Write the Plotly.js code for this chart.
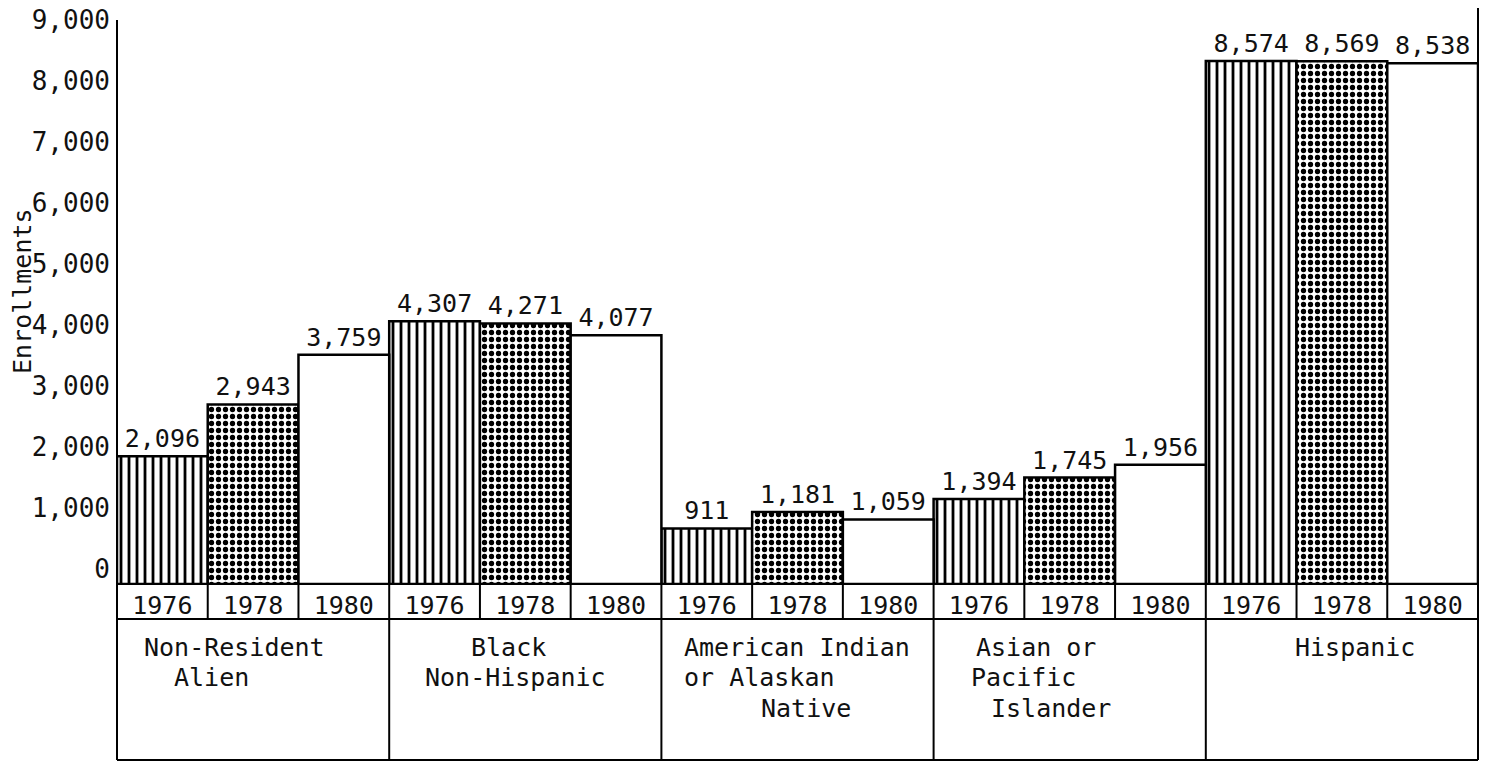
<!DOCTYPE html>
<html><head><meta charset="utf-8">
<script src="https://cdn.plot.ly/plotly-3.0.1.min.js"></script>
<style>html,body{margin:0;padding:0;background:#fff}#chart{width:1488px;height:763px}</style>
</head><body><div id="chart"></div>
<script>
// ---- data ----
const categories = ['Non-Resident Alien', 'Black Non-Hispanic', 'American Indian or Alaskan Native', 'Asian or Pacific Islander', 'Hispanic'];
const years = ['1976', '1978', '1980'];
const enroll1976 = [2096, 4307, 911, 1394, 8574];
const enroll1978 = [2943, 4271, 1181, 1745, 8569];
const enroll1980 = [3759, 4077, 1059, 1956, 8538];
const yTickVals = [0, 1000, 2000, 3000, 4000, 5000, 6000, 7000, 8000, 9000];
const yTickText = ['0', '1,000', '2,000', '3,000', '4,000', '5,000', '6,000', '7,000', '8,000', '9,000'];
const categoryLines = [
  ['Non-Resident', 'Alien'],
  ['Black', 'Non-Hispanic'],
  ['American Indian', 'or Alaskan', 'Native'],
  ['Asian or', 'Pacific', 'Islander'],
  ['Hispanic']
];
// left indent (px) of each label line inside its cell (style only)
const lineIndent = [[25, 55], [80, 34], [21, 21, 98], [40, 35, 55], [87]];

// ---- layout geometry ----
const W = 1488, H = 763;
const M = {l: 117, r: 10, t: 35, b: 179};
const plotW = W - M.l - M.r, plotH = H - M.t - M.b;
const baseY = H - M.b;
const py = p => (baseY - p) / plotH;       // pixel row -> paper y
const FONT = '"DejaVu Sans Mono", "Liberation Mono", monospace';
const INK = '#111';

const nG = categories.length, nY = years.length, nBars = nG * nY;
const series = [enroll1976, enroll1978, enroll1980];
const patterns = [
  {shape: '|', fgcolor: '#000', bgcolor: '#fff', size: 8, solidity: 0.35},
  {shape: '.', fgcolor: '#000', bgcolor: '#fff', size: 7, solidity: 0.45},
  null
];

const traces = series.map((vals, k) => {
  const marker = {color: '#fff', line: {color: '#000', width: 2.5}};
  if (patterns[k]) marker.pattern = patterns[k];
  return {
    type: 'bar', name: years[k],
    x: vals.map((v, g) => g * nY + k),
    y: vals,
    width: 1,
    marker: marker,
    text: vals.map(v => v.toLocaleString('en-US')),
    textposition: 'outside',
    cliponaxis: false,
    textfont: {family: FONT, size: 25, color: INK},
    hoverinfo: 'skip'
  };
});

const rowY = py(619), botY = py(760);
const line = {color: '#000', width: 2};
const shapes = [];
const hl = y => shapes.push({type: 'line', xref: 'paper', yref: 'paper', x0: 0, x1: 1, y0: y, y1: y, line});
const vl = (x, y0, y1) => shapes.push({type: 'line', xref: 'paper', yref: 'paper', x0: x, x1: x, y0, y1, line});
hl(0); hl(rowY); hl(botY);
vl(0, botY, py(20)); vl(1, botY, py(8));
for (let g = 1; g < nG; g++) vl(g * nY / nBars, botY, 0);
for (let g = 0; g < nG; g++) for (let k = 1; k < nY; k++) vl((g * nY + k) / nBars, rowY, 0);

const annotations = [];
const lineRows = [647, 678, 708];
categoryLines.forEach((lines, g) => {
  lines.forEach((txt, i) => {
    annotations.push({
      xref: 'paper', yref: 'paper', x: (g * nY) / nBars + lineIndent[g][i] / plotW, y: py(lineRows[i]),
      xanchor: 'left', yanchor: 'middle', showarrow: false, text: txt,
      font: {family: FONT, size: 25, color: INK}
    });
  });
});
annotations.push({
  xref: 'paper', yref: 'paper', x: (22 - M.l) / plotW, y: py(291), textangle: -90,
  xanchor: 'center', yanchor: 'middle', showarrow: false, text: 'Enrollments',
  font: {family: FONT, size: 25, color: INK}
});

const layout = {
  width: W, height: H, margin: M, showlegend: false,
  paper_bgcolor: '#fff', plot_bgcolor: '#fff',
  barmode: 'overlay', bargap: 0,
  xaxis: {
    range: [-0.5, nBars - 0.5], tickmode: 'array',
    tickvals: Array.from({length: nBars}, (_, i) => i),
    ticktext: Array.from({length: nBars}, (_, i) => years[i % nY]),
    showgrid: false, zeroline: false, showline: false, ticks: '',
    tickfont: {family: FONT, size: 25, color: INK}, ticklabelstandoff: 4
  },
  yaxis: {
    range: [0, 9000], tickmode: 'array', tickvals: yTickVals, ticktext: yTickText,
    showgrid: false, zeroline: false, showline: false, ticks: '',
    tickfont: {family: FONT, size: 26, color: INK},
    ticklabelshift: -15, ticklabelstandoff: 6
  },
  shapes, annotations
};
Plotly.newPlot('chart', traces, layout, {staticPlot: true});
</script></body></html>
